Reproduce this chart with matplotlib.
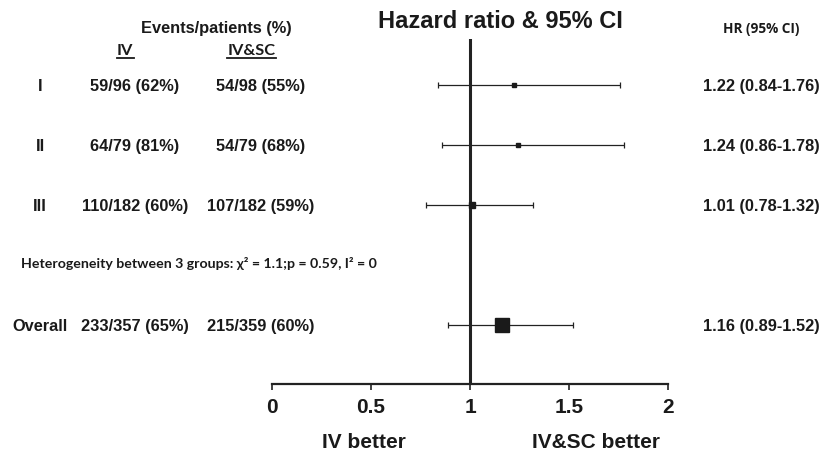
import matplotlib
matplotlib.use("Agg")
import matplotlib.pyplot as plt
from matplotlib.transforms import blended_transform_factory
from matplotlib.lines import Line2D

plt.rcParams['font.family'] = ['Liberation Sans', 'DejaVu Sans']

groups = ['I', 'II', 'III', 'Overall']
row_pos = [1, 2, 3, 5]
iv_events = [59, 64, 110, 233]
iv_patients = [96, 79, 182, 357]
iv_pct = [62, 81, 60, 65]
sc_events = [54, 54, 107, 215]
sc_patients = [98, 79, 182, 359]
sc_pct = [55, 68, 59, 60]
hr = [1.22, 1.24, 1.01, 1.16]
ci_low = [0.84, 0.86, 0.78, 0.89]
ci_high = [1.76, 1.78, 1.32, 1.52]
xticks = [0, 0.5, 1, 1.5, 2]
xticklabels = ['0', '0.5', '1', '1.5', '2']
marker_sizes = [3.2, 3.0, 4.0, 9.5]
het_text = "Heterogeneity between 3 groups: \u03c7\u00b2 = 1.1;p = 0.59, I\u00b2 = 0"

W, H = 822, 452
fig = plt.figure(figsize=(W / 100, H / 100), dpi=100)
tc = '#1a1a1a'

left, right = 272 / W, 668 / W
bottom, top = 1 - 385 / H, 1 - 40 / H
ax = fig.add_axes([left, bottom, right - left, top - bottom])
ax.set_xlim(0, 2)
ax.set_ylim(5.983, 0.233)

for s in ['top', 'left', 'right']:
    ax.spines[s].set_visible(False)
ax.spines['bottom'].set_linewidth(1.6)
ax.spines['bottom'].set_color('#222222')
ax.set_yticks([])
ax.set_xticks(xticks)
ax.set_xticklabels(xticklabels, fontsize=15, fontweight='bold', color=tc)
ax.tick_params(axis='x', direction='out', length=4.5, width=1.2, color='#222222', pad=5)

ax.axvline(1, color='#222222', lw=2.2, zorder=1)

for i in range(len(groups)):
    ax.errorbar(hr[i], row_pos[i], xerr=[[hr[i] - ci_low[i]], [ci_high[i] - hr[i]]],
                fmt='s', color='#1a1a1a', ms=marker_sizes[i], ecolor='#222222',
                elinewidth=0.9, capsize=2.5, capthick=0.9, zorder=3)

tr = blended_transform_factory(fig.transFigure, ax.transData)
fs = 11.8
for i, g in enumerate(groups):
    y = row_pos[i]
    ax.text(40 / W, y, g, transform=tr, ha='center', va='center', fontsize=fs, fontweight='bold', color=tc)
    ax.text(135 / W, y, f"{iv_events[i]}/{iv_patients[i]} ({iv_pct[i]}%)", transform=tr,
            ha='center', va='center', fontsize=fs, fontweight='bold', color=tc)
    ax.text(261 / W, y, f"{sc_events[i]}/{sc_patients[i]} ({sc_pct[i]}%)", transform=tr,
            ha='center', va='center', fontsize=fs, fontweight='bold', color=tc)
    ax.text(703 / W, y, f"{hr[i]:.2f} ({ci_low[i]:.2f}-{ci_high[i]:.2f})", transform=tr,
            ha='left', va='center', fontsize=fs, fontweight='bold', color=tc)

ax.text(21 / W, 3.95, het_text, transform=tr, ha='left', va='center', fontsize=10.2,
        fontweight='bold', color=tc, family=['Lato', 'DejaVu Sans'])

# headers
fig.text(500 / W, 1 - 22 / H, "Hazard ratio & 95% CI", ha='center', va='center',
         fontsize=17, fontweight='bold', color=tc)
fig.text(216 / W, 1 - 29 / H, "Events/patients (%)", ha='center', va='center',
         fontsize=fs, fontweight='bold', color=tc)
fig.text(761 / W, 1 - 29 / H, "HR (95% CI)", ha='center', va='center',
         fontsize=9.8, fontweight='bold', color=tc, family=['Open Sans', 'DejaVu Sans'])
fig.text(125 / W, 1 - 51 / H, "IV", ha='center', va='center', fontsize=fs,
         fontweight='bold', color=tc, family=['Lato', 'DejaVu Sans'])
fig.text(252 / W, 1 - 51 / H, "IV&SC", ha='center', va='center', fontsize=fs,
         fontweight='bold', color=tc, family=['Lato', 'DejaVu Sans'])
for x0, x1 in [(117, 134), (227, 276)]:
    fig.add_artist(Line2D([x0 / W, x1 / W], [1 - 59 / H, 1 - 59 / H], color=tc, lw=1.3,
                          transform=fig.transFigure))

fig.text(364 / W, 1 - 443 / H, "IV better", ha='center', va='center', fontsize=15,
         fontweight='bold', color=tc)
fig.text(596 / W, 1 - 443 / H, "IV&SC better", ha='center', va='center', fontsize=15,
         fontweight='bold', color=tc)

fig.savefig('out.png', dpi=100, facecolor='white')
